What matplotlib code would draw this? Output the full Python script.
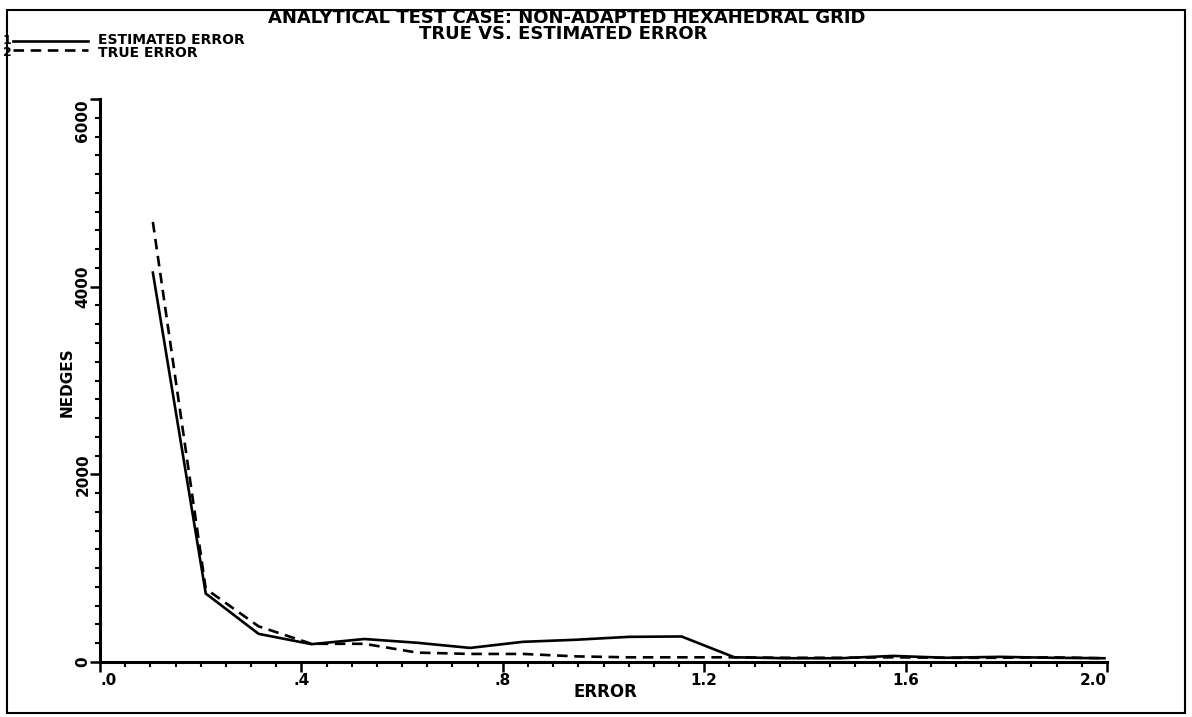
import matplotlib
matplotlib.use('Agg')
import matplotlib.pyplot as plt
from matplotlib.lines import Line2D
from matplotlib.patches import Rectangle

# Histogram of edge errors, bin centres every 0.105
error = [0.105, 0.21, 0.315, 0.42, 0.525, 0.63, 0.735, 0.84, 0.945, 1.05,
         1.155, 1.26, 1.365, 1.47, 1.575, 1.68, 1.785, 1.89, 1.995]
nedges_est = [4150, 730, 300, 190, 245, 205, 150, 215, 237, 268,
              272, 50, 40, 40, 65, 45, 55, 45, 40]
nedges_true = [4690, 780, 380, 194, 194, 100, 86, 86, 60, 50,
               50, 50, 45, 45, 50, 45, 45, 50, 40]

xticks = [0.0, 0.4, 0.8, 1.2, 1.6, 2.0]
xticklabels = ['.0', '.4', '.8', '1.2', '1.6', '2.0']
yticks = [0, 2000, 4000, 6000]
yticklabels = ['0', '2000', '4000', '6000']

plt.rcParams['font.family'] = ['DejaVu Sans']
plt.rcParams['font.weight'] = 'bold'

W, H = 1192, 717


def fx(px):
    return px / W


def fy(py):
    return 1 - py / H


fig = plt.figure(figsize=(W / 100, H / 100), dpi=100)
ax = fig.add_axes([fx(100), fy(662), 1007 / W, 563 / H])

ax.plot(error, nedges_est, color='black', lw=1.9, solid_joinstyle='miter')
ax.plot(error, nedges_true, color='black', lw=1.9, dashes=(4, 2.5))

ax.set_xlim(0, 2.0)
ax.set_ylim(0, 6000)
ax.spines['top'].set_visible(False)
ax.spines['right'].set_visible(False)
ax.spines['left'].set_linewidth(2.2)
ax.spines['bottom'].set_linewidth(2.2)

ax.set_xticks(xticks)
ax.set_xticks([i * 0.05 for i in range(41)], minor=True)
ax.set_yticks(yticks)
ax.set_yticks(range(0, 6001, 200), minor=True)
ax.tick_params(which='major', direction='out', length=7, width=1.8, pad=1)
ax.tick_params(which='minor', direction='out', length=3.5, width=1.5)
ax.tick_params(axis='y', which='major', pad=0)

xl = ax.set_xticklabels(xticklabels, fontsize=11, fontweight='bold')
xl[0].set_ha('left')
xl[-1].set_ha('right')
yl = ax.set_yticklabels(yticklabels, fontsize=11, fontweight='bold',
                        rotation=90, va='center')
yl[-1].set_va('top')

fig.text(fx(605), fy(692), 'ERROR', ha='center', va='center',
         fontsize=12, fontweight='bold')
fig.text(fx(67), fy(382), 'NEDGES', ha='center', va='center',
         rotation=90, fontsize=11, fontweight='bold')

# Title block
fig.text(fx(567), fy(18), 'ANALYTICAL TEST CASE: NON-ADAPTED HEXAHEDRAL GRID',
         ha='center', va='center', fontsize=13)
fig.text(fx(563), fy(34), 'TRUE VS. ESTIMATED ERROR',
         ha='center', va='center', fontsize=13)

# Curve key in the upper left corner
fig.text(fx(3), fy(40), '1', ha='left', va='center', fontsize=9)
fig.text(fx(3), fy(53), '2', ha='left', va='center', fontsize=9)
fig.add_artist(Line2D([fx(13), fx(88)], [fy(41), fy(41)], color='black', lw=1.9))
fig.add_artist(Line2D([fx(13), fx(88)], [fy(50), fy(50)], color='black', lw=1.9,
                      dashes=(4, 2.5)))
fig.text(fx(98), fy(40), 'ESTIMATED ERROR', ha='left', va='center', fontsize=10)
fig.text(fx(98), fy(53), 'TRUE ERROR', ha='left', va='center', fontsize=10)

# Page border
fig.add_artist(Rectangle((fx(7), fy(713)), 1178 / W, 703 / H,
                         fill=False, edgecolor='black', lw=1.5))

fig.savefig('out.png', dpi=100)
